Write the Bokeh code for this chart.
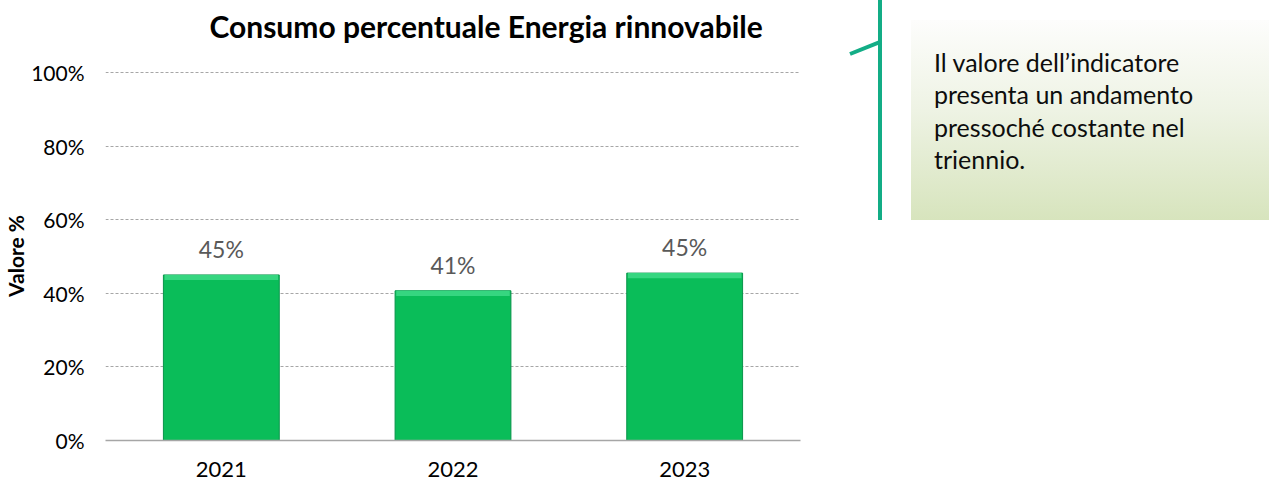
from bokeh.plotting import figure
from bokeh.layouts import row
from bokeh.models import (Range1d, FixedTicker, PrintfTickFormatter, ColumnDataSource,
                          LabelSet, Div, Title)
from bokeh.core.properties import value
from bokeh.embed import file_html
from bokeh.resources import INLINE

# ---- data ----
years = ["2021", "2022", "2023"]
values = [45.0, 40.7, 45.5]
value_labels = ["45%", "41%", "45%"]
y_ticks = [0, 20, 40, 60, 80, 100]
title_text = "Consumo percentuale Energia rinnovabile"
y_label = "Valore %"
note_lines = ["Il valore dell\u2019indicatore",
              "presenta un andamento",
              "pressoch\u00e9 costante nel",
              "triennio."]

FONT = "Lato"

src = ColumnDataSource(dict(x=years, top=values, lab=value_labels,
                            hi_bottom=[v - 1.4 for v in values]))

p = figure(x_range=years, y_range=Range1d(0, 100.3), width=818, height=487,
           output_backend="svg", toolbar_location=None,
           min_border_left=102, min_border_right=18, min_border_top=71,
           min_border_bottom=47)
p.x_range.range_padding = 0
p.outline_line_color = None
p.background_fill_color = "white"

p.title.text = title_text
p.title.text_font = FONT
p.title.text_font_size = "30px"
p.title.text_font_style = "bold"
p.title.text_color = "black"
p.title.align = "left"
p.title.vertical_align = "bottom"
p.title.offset = 104
p.title.standoff = 0

# spacer between the title and the plot area
p.add_layout(Title(text=" ", text_font_size="10px", standoff=15), "above")

# bars with a slight bevel look
p.vbar(x="x", top="top", width=0.5, source=src, fill_color="#0ABD59",
       line_color="#08944A", line_width=1)
p.vbar(x="x", top="top", bottom="hi_bottom", width=0.49, source=src,
       fill_color="#36D680", line_color=None)

labels = LabelSet(x="x", y="top", text="lab", source=src, y_offset=17,
                  text_align="center", text_baseline="alphabetic",
                  text_font=value(FONT), text_font_size="23px", text_color="#595959")
p.add_layout(labels)

# axes
p.yaxis.ticker = FixedTicker(ticks=y_ticks)
p.yaxis.formatter = PrintfTickFormatter(format="%d%%")
p.yaxis.axis_line_color = None
p.yaxis.major_tick_line_color = None
p.yaxis.minor_tick_line_color = None
p.yaxis.major_tick_out = 0
p.yaxis.major_tick_in = 0
p.yaxis.minor_tick_out = 0
p.yaxis.major_label_standoff = 21
p.yaxis.major_label_text_font = FONT
p.yaxis.major_label_text_font_size = "21px"
p.yaxis.major_label_text_color = "black"
p.yaxis.axis_label = y_label
p.yaxis.axis_label_text_font = FONT
p.yaxis.axis_label_text_font_size = "21px"
p.yaxis.axis_label_text_font_style = "bold"
p.yaxis.axis_label_text_color = "black"
p.yaxis.axis_label_standoff = 0

p.xaxis.axis_line_color = "#A6A6A6"
p.xaxis.axis_line_width = 1.5
p.xaxis.major_tick_line_color = None
p.xaxis.minor_tick_line_color = None
p.xaxis.major_tick_out = 0
p.xaxis.major_tick_in = 0
p.xaxis.major_label_standoff = 21
p.xaxis.major_label_text_font = FONT
p.xaxis.major_label_text_font_size = "22px"
p.xaxis.major_label_text_color = "black"

p.xgrid.grid_line_color = None
p.ygrid.grid_line_color = "#A6A6A6"
p.ygrid.grid_line_dash = "3 2"
p.ygrid.grid_line_width = 1

# ---- callout panel (HTML) ----
text_html = "<br>".join(note_lines)
html = f"""
<div style="position:relative;width:451px;height:487px;overflow:visible;">
  <div style="position:absolute;left:60px;top:0px;width:4px;height:220px;background:#13AD86;"></div>
  <div style="position:absolute;left:32px;top:52px;width:32px;height:4px;background:#13AD86;
              transform-origin:0 50%;transform:rotate(-21.8deg);"></div>
  <div style="position:absolute;left:93px;top:20px;width:358px;height:200px;box-sizing:border-box;
              background:linear-gradient(to bottom,#fdfdfc 0%,#eef3e4 45%,#d7e4bd 100%);
              padding:26px 0 0 23px;font-family:'Lato';font-size:25px;line-height:32.4px;
              color:#0d0d0d;white-space:nowrap;">{text_html}</div>
</div>
"""
q = Div(text=html, width=451, height=487, margin=(0, 0, 0, 0))

layout = row(p, q)
open("out.html", "w").write(file_html(layout, INLINE))
